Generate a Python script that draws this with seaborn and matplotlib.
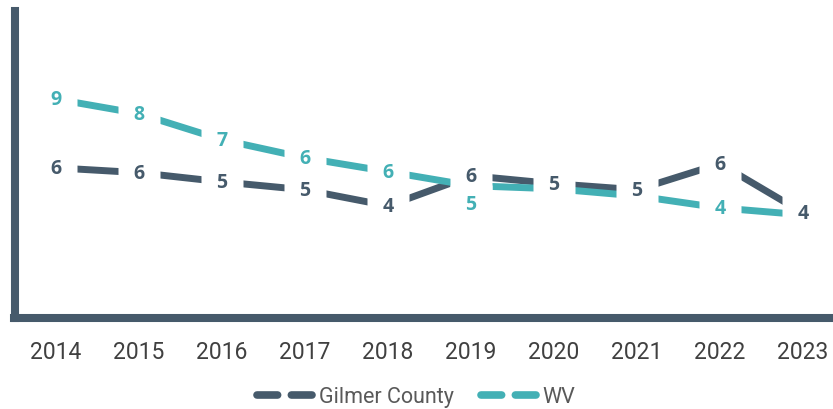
import matplotlib
matplotlib.use("Agg")
import matplotlib.pyplot as plt
from matplotlib.lines import Line2D
from matplotlib.path import Path
from matplotlib.transforms import ScaledTranslation
import seaborn as sns
import pandas as pd

years = [2014, 2015, 2016, 2017, 2018, 2019, 2020, 2021, 2022, 2023]
gilmer = [5.86, 5.67, 5.31, 5.0, 4.37, 5.55, 5.24, 5.0, 6.02, 4.1]
wv = [8.55, 7.98, 6.96, 6.25, 5.71, 5.16, 5.04, 4.76, 4.29, 4.02]
series_names = ["Gilmer County", "WV"]

DARK = "#465a6b"
TEAL = "#43b0b5"
TICK = "#404040"

df = pd.DataFrame({
    "year": years * 2,
    "value": gilmer + wv,
    "series": [series_names[0]] * len(years) + [series_names[1]] * len(years),
})

sns.set_theme(style="white")
plt.rcParams["font.family"] = ["Open Sans", "DejaVu Sans"]

fig = plt.figure(figsize=(8.33, 4.10), dpi=100)
ax = fig.add_axes([14.5 / 833, (410 - 318.5) / 410, 830 / 833, (318.5 - 12) / 410])

palette = {series_names[0]: DARK, series_names[1]: TEAL}
sns.lineplot(data=df, x="year", y="value", hue="series", palette=palette,
             linewidth=5, ax=ax, legend=False)
for ln in ax.get_lines():
    ln.set_solid_capstyle("butt")

# labels sit on the points; a white box under each breaks the line into dashes
box = Path([(-0.5, -0.45), (0.5, -0.45), (0.5, 0.45), (-0.5, 0.45), (-0.5, -0.45)],
           closed=True)
label_shift = {("WV", 2019): -13}
hidden = {("WV", 2020), ("WV", 2021), ("WV", 2023)}  # drawn under the Gilmer label
for name, vals in zip(series_names, [gilmer, wv]):
    col = palette[name]
    for yr, v in zip(years, vals):
        if (name, yr) in hidden:
            continue
        dy = label_shift.get((name, yr), 0)
        trans = ax.transData + ScaledTranslation(0, dy / 72, fig.dpi_scale_trans)
        ax.plot([yr], [v], marker=box, ms=30, mfc="white", mec="none", ls="none",
                zorder=4, transform=trans)
        ax.text(yr, v, f"{v:.0f}", transform=trans, ha="center", va="center",
                fontsize=14, fontweight="bold", color=col, zorder=5)

ax.set_xlim(2013.5, 2023.5)
ax.set_ylim(0, 12)
ax.set_xticks(years)
ax.set_xticklabels([str(y) for y in years], fontsize=16.5, color=TICK,
                   family=["Roboto", "DejaVu Sans"])
ax.set_yticks([])
ax.tick_params(axis="x", length=0, pad=16)
ax.set_xlabel("")
ax.set_ylabel("")

for side in ["top", "right"]:
    ax.spines[side].set_visible(False)
for side in ["left", "bottom"]:
    ax.spines[side].set_color(DARK)
    ax.spines[side].set_linewidth(5.8)
ax.spines["bottom"].set_clip_on(False)

handles = [Line2D([], [], color=palette[n], linewidth=5.5, dashes=(2.7, 1.8),
                  dash_capstyle="round") for n in series_names]
fig.legend(handles, series_names, loc="center", bbox_to_anchor=(0.5, 12 / 410),
           ncol=2, frameon=False, handlelength=2.7, columnspacing=1.3,
           handletextpad=0.15, prop={"family": ["Roboto", "DejaVu Sans"], "size": 15.5},
           labelcolor="#595959")

fig.savefig("out.png", dpi=100)
